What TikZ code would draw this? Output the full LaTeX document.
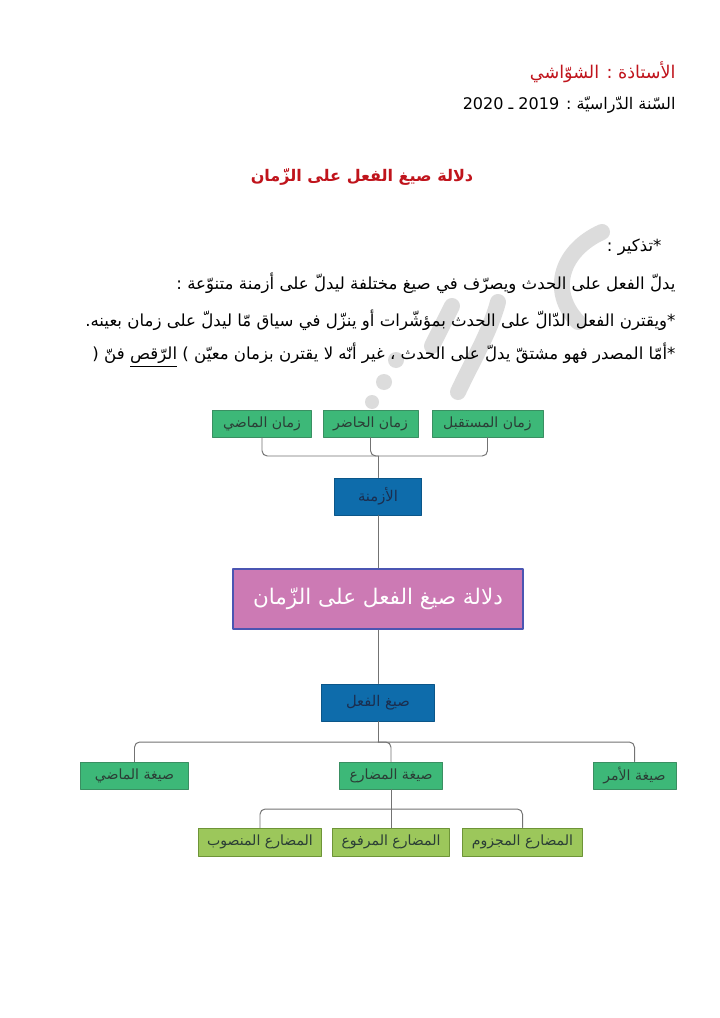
\documentclass[tikz,border=0pt]{standalone}
\usepackage{fontspec}
\usepackage{xcolor}
\usetikzlibrary{calc}
\TeXXeTstate=1
\newfontfamily\arabicfont[Script=Arabic]{DejaVu Sans}
\definecolor{titlered}{HTML}{C0141C}
\definecolor{linegray}{HTML}{737373}
\definecolor{markgray}{HTML}{DCDCDC}
\definecolor{boxgreen}{HTML}{3DB878}
\definecolor{boxgreenline}{HTML}{3A8F62}
\definecolor{boxblue}{HTML}{0E6CAB}
\definecolor{boxpink}{HTML}{CC7AB4}
\definecolor{boxpinkline}{HTML}{4B55B2}
\definecolor{boxlime}{HTML}{9CC75B}
\definecolor{boxlimeline}{HTML}{6E9438}
\definecolor{darktext}{HTML}{2B3E36}
\definecolor{navytext}{HTML}{1B2E4F}

\begin{document}
\begin{tikzpicture}[
		x=0.025cm, y=-0.025cm,
		line width=0.7pt,
		line cap=round,
		line join=round,
		link/.style={draw=linegray, rounded corners=1.3mm},
		txt/.style={anchor=east, inner sep=0pt, font=\arabicfont\fontsize{11.8}{14}\selectfont},
		zamanbox/.style={fill=boxgreen, draw=boxgreenline, minimum height=0.675cm, inner sep=0pt, text=darktext, font=\arabicfont\fontsize{10}{12}\selectfont},
		bluebox/.style={fill=boxblue, draw=boxblue!80!black, minimum height=0.925cm, inner sep=0pt, text=navytext, font=\arabicfont\fontsize{10.5}{12}\selectfont},
		mainbox/.style={fill=boxpink, draw=boxpinkline, line width=1.5pt, minimum width=7.25cm, minimum height=1.5cm, inner sep=0pt, text=white, font=\arabicfont\fontsize{15.3}{18}\selectfont},
		limebox/.style={fill=boxlime, draw=boxlimeline, minimum height=0.7cm, inner sep=0pt, text=darktext, font=\arabicfont\fontsize{10}{12}\selectfont}
		]
		\fill[white] (0,0) rectangle (720,1018);
		\useasboundingbox (0,0) rectangle (720,1018);
		
		% watermark strokes
		\begin{scope}[markgray, line width=4mm]
			\draw (602,232) .. controls (562,250) and (548,290) .. (578,322);
			\draw (498,302) .. controls (490,332) and (472,362) .. (458,392);
			\draw (452,306) -- (432,346);
			\fill (396,360) circle (8);
			\fill (384,382) circle (8);
			\fill (372,402) circle (7);
		\end{scope}
		
		% header
		\node[txt, text=titlered, font=\arabicfont\fontsize{12.5}{15}\selectfont] (teacher) at (676,72) {\beginR الأستاذة : الشوّاشي\endR};
		\node[txt, font=\arabicfont\fontsize{11.4}{14}\selectfont] (year) at (676,105) {\beginR السّنة الدّراسيّة : \beginL 2019\endL{} ـ \beginL 2020\endL\endR};
		\node[inner sep=0pt, text=titlered, font=\arabicfont\bfseries\fontsize{11.4}{14}\selectfont] (title) at (362,177) {\beginR دلالة صيغ الفعل على الزّمان\endR};
		
		% reminder
		\node[txt] (remind) at (662,247) {\beginR *تذكير :\endR};
		\node[txt] (lineA) at (676,283) {\beginR يدلّ الفعل على الحدث ويصرّف في صيغ مختلفة ليدلّ على أزمنة متنوّعة :\endR};
		\node[txt] (lineB) at (676,320) {\beginR *ويقترن الفعل الدّالّ على الحدث بمؤشّرات أو ينزّل في سياق مّا ليدلّ على زمان بعينه.\endR};
		\node[txt] (lineC) at (676,355) {\beginR *أمّا المصدر فهو مشتقّ يدلّ على الحدث ، غير أنّه لا يقترن بزمان معيّن ) \underline{الرّقص} فنّ (\endR};
		
		% tenses
		\node[zamanbox, minimum width=2.45cm] (zmadi) at (262,423.5) {\beginR زمان الماضي\endR};
		\node[zamanbox, minimum width=2.375cm] (zhadir) at (370.5,423.5) {\beginR زمان الحاضر\endR};
		\node[zamanbox, minimum width=2.775cm] (zmust) at (487.5,423.5) {\beginR زمان المستقبل\endR};
		\node[bluebox, minimum width=2.175cm] (azmina) at (378,496.5) {\beginR الأزمنة\endR};
		\node[mainbox] (main) at (378,599) {\beginR دلالة صيغ الفعل على الزّمان\endR};
		\node[bluebox, minimum width=2.8cm] (siyagh) at (378,702.5) {\beginR صيغ الفعل\endR};
		
		% forms
		\node[zamanbox, minimum width=2.675cm] (smadi) at (134.5,775.5) {\beginR صيغة الماضي\endR};
		\node[zamanbox, minimum width=2.575cm] (smudari) at (391,775.5) {\beginR صيغة المضارع\endR};
		\node[zamanbox, minimum width=2.075cm] (samr) at (634.5,775.5) {\beginR صيغة الأمر\endR};
		\node[limebox, minimum width=3.05cm] (mansub) at (260,842) {\beginR المضارع المنصوب\endR};
		\node[limebox, minimum width=2.9cm] (marfu) at (391,842) {\beginR المضارع المرفوع\endR};
		\node[limebox, minimum width=2.975cm] (majzum) at (522.5,842) {\beginR المضارع المجزوم\endR};
		
		\coordinate (hubA) at (378,456);
		\coordinate (hubB) at (378,742);
		\coordinate (hubC) at (391,809);
		
		\draw[link] (zmadi.south) |- (hubA) -| (zmust.south);
		\draw[link] (zhadir.south) |- (hubA);
		\draw[link] (hubA) -- (azmina.north);
		\draw[link] (azmina.south) -- (main.north);
		\draw[link] (main.south) -- (siyagh.north);
		\draw[link] (siyagh.south) -- (hubB);
		\draw[link] (smadi.north) |- (hubB) -| (samr.north);
		\draw[link] (hubB) -| (smudari.north);
		\draw[link] (mansub.north) |- (hubC) -| (majzum.north);
		\draw[link] (smudari.south) -- (marfu.north);
		
	\end{tikzpicture}
\end{document}
